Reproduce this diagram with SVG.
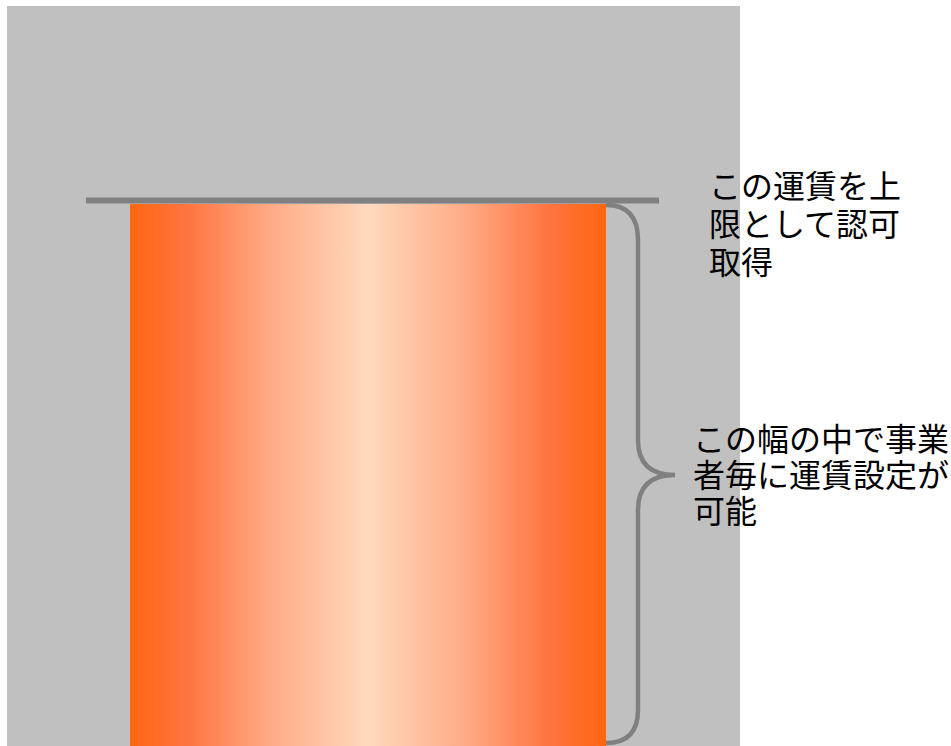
<svg xmlns="http://www.w3.org/2000/svg" width="951" height="746" viewBox="0 0 951 746">
<style>
.lbl{font-family:"Noto Sans CJK JP","Noto Sans CJK SC",sans-serif;font-size:32px;fill:#000}
.gl{stroke:#808080;fill:none}
</style>
<defs>
<linearGradient id="og" x1="0" y1="0" x2="1" y2="0">
<stop offset="0" stop-color="#ff6610"/>
<stop offset="0.12" stop-color="#ff7440"/>
<stop offset="0.3" stop-color="#ffac88"/>
<stop offset="0.5" stop-color="#ffd9bd"/>
<stop offset="0.7" stop-color="#ffac88"/>
<stop offset="0.88" stop-color="#ff7440"/>
<stop offset="1" stop-color="#ff6610"/>
</linearGradient>
</defs>
<rect width="951" height="746" fill="#fff"/>
<rect id="bg" x="7" y="6" width="733" height="740" fill="#c0c0c0"/>
<g id="bar"><rect x="130" y="204" width="476" height="542" fill="url(#og)"/></g>
<g id="connectors">
<line class="gl" x1="86" y1="200.5" x2="659" y2="200.5" stroke-width="6"/>
<path class="gl" stroke-width="4.5" d="M606,205 Q638,205 638,240 L638,440 Q638,475 675,475 Q638,475 638,510 L638,710 Q638,743 606,743"/>
</g>
<g id="label-top">
<text class="lbl" x="709" y="198">この運賃を上</text>
<text class="lbl" x="709" y="236">限として認可</text>
<text class="lbl" x="709" y="274">取得</text>
</g>
<g id="label-mid">
<text class="lbl" x="693" y="451">この幅の中で事業</text>
<text class="lbl" x="693" y="487">者毎に運賃設定が</text>
<text class="lbl" x="693" y="523">可能</text>
</g>
</svg>
